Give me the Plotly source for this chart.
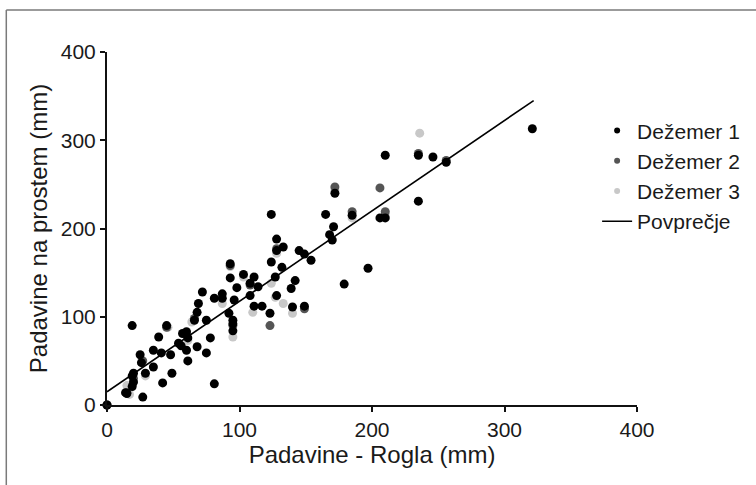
import plotly.graph_objects as go

# Dežemer 1 (black)
d1_x = [0, 14, 15, 19, 20, 19, 20, 19, 27, 25, 26, 29, 35, 35, 39, 41, 42, 45, 48, 49,
        54, 56, 57, 60, 61, 60, 61, 68, 66, 68, 69, 72, 75, 78, 81, 75, 81, 87, 87, 92,
        93, 93, 95, 95, 95, 96, 98, 103, 108, 108, 111, 111, 114, 117, 123, 124, 124, 127,
        128, 128, 128, 132, 133, 139, 140, 142, 145, 149, 149, 154, 165, 168, 170, 171,
        172, 179, 185, 197, 206, 210, 210, 235, 235, 246, 256, 321]
d1_y = [0, 14, 13, 21, 26, 33, 36, 90, 9, 57, 48, 36, 43, 62, 77, 59, 25, 90, 57, 36,
        70, 67, 81, 83, 76, 62, 50, 66, 96, 105, 115, 128, 59, 76, 24, 96, 121, 126, 121, 104,
        160, 144, 96, 92, 84, 119, 133, 148, 138, 124, 145, 112, 134, 112, 104, 216, 162, 145,
        188, 175, 124, 156, 179, 132, 111, 141, 175, 171, 112, 164, 216, 193, 187, 202,
        240, 137, 215, 155, 212, 212, 283, 283, 231, 281, 275, 313]

# Dežemer 2 (dark grey)
d2_x = [0, 15, 20, 27, 45, 60, 66, 93, 95, 108, 123, 128, 149, 172, 185, 206, 210, 235, 256]
d2_y = [0, 14, 30, 50, 88, 80, 98, 158, 90, 136, 90, 177, 109, 247, 219, 246, 219, 285, 277]

# Dežemer 3 (light grey)
d3_x = [0, 17, 15, 29, 46, 61, 64, 87, 93, 95, 103, 110, 124, 127, 128, 133, 140, 172, 185, 210, 236]
d3_y = [0, 12, 22, 33, 88, 73, 94, 115, 157, 77, 145, 105, 138, 122, 172, 115, 104, 243, 212, 215, 308]

# Povprečje (mean regression line)
avg_x = [0, 322]
avg_y = [15, 345]

x_ticks = [0, 100, 200, 300, 400]
y_ticks = [0, 100, 200, 300, 400]

FONT = "Arial, Liberation Sans, sans-serif"
C1, C2, C3 = "#000000", "#555555", "#c8c8c8"

fig = go.Figure()
for xs, ys, c in [(d3_x, d3_y, C3), (d2_x, d2_y, C2), (d1_x, d1_y, C1)]:
    fig.add_trace(go.Scatter(x=xs, y=ys, mode="markers", showlegend=False, cliponaxis=False,
                             marker=dict(color=c, size=9, line=dict(width=0))))
fig.add_trace(go.Scatter(x=avg_x, y=avg_y, mode="lines", showlegend=False, cliponaxis=False,
                         line=dict(color="#000000", width=1.6)))

# legend entries
for i, (name, c) in enumerate([("Dežemer 1", C1), ("Dežemer 2", C2), ("Dežemer 3", C3)]):
    fig.add_trace(go.Scatter(x=[None], y=[None], mode="markers", name=name, legendgroup=str(i),
                             marker=dict(color=c, size=6)))
fig.add_trace(go.Scatter(x=[None], y=[None], mode="lines", name="Povprečje", legendgroup="3",
                         line=dict(color="#000000", width=1.6)))

fig.update_layout(
    width=756, height=485,
    margin=dict(l=107, r=118, t=52, b=80),
    paper_bgcolor="white", plot_bgcolor="white",
    font=dict(family=FONT, color="#1a1a1a"),
    legend=dict(x=0.923, y=0.835, xanchor="left", yanchor="top", font=dict(size=21, family=FONT),
                tracegroupgap=0, bgcolor="rgba(0,0,0,0)"),
    xaxis=dict(range=[0, 400], tickvals=x_ticks, showgrid=False, zeroline=False,
               showline=True, linecolor="#111", linewidth=2, ticks="outside", ticklen=5,
               tickwidth=2, tickcolor="#111", tickfont=dict(size=21),
               title=dict(text="Padavine - Rogla (mm)", font=dict(size=24), standoff=6)),
    yaxis=dict(range=[0, 400], tickvals=y_ticks, showgrid=False, zeroline=False,
               showline=True, linecolor="#111", linewidth=2, ticks="outside", ticklen=5,
               tickwidth=2, tickcolor="#111", tickfont=dict(size=21),
               title=dict(text="Padavine na prostem (mm)", font=dict(size=24), standoff=6)),
    shapes=[
        dict(type="line", xref="paper", yref="paper", x0=-0.190, x1=-0.190, y0=-0.3, y1=1.119,
             line=dict(color="#7a7a7a", width=1.5)),
        dict(type="line", xref="paper", yref="paper", x0=-0.190, x1=1.3, y0=1.119, y1=1.119,
             line=dict(color="#7a7a7a", width=1.5)),
    ],
)

fig.write_html("out.html")
